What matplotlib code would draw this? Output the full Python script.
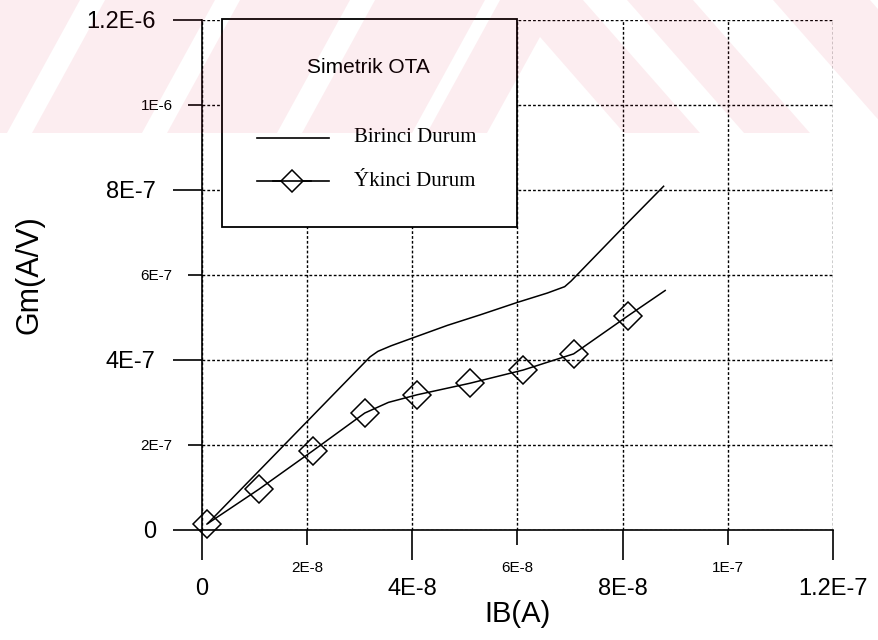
import matplotlib
matplotlib.use("Agg")
import matplotlib.pyplot as plt
from matplotlib.patches import Rectangle, PathPatch
from matplotlib.path import Path
from matplotlib.lines import Line2D
from matplotlib.transforms import Affine2D
from matplotlib.ticker import FixedLocator, FixedFormatter

# ---------------- data ----------------
# Birinci Durum (plain line)
x1 = [1.2e-9, 3.2e-8, 3.35e-8, 3.6e-8, 4.0e-8, 4.67e-8, 5.3e-8, 6.0e-8, 6.57e-8, 6.9e-8, 7.02e-8, 8.0e-8, 8.78e-8]
y1 = [1.6e-8, 4.07e-7, 4.2e-7, 4.33e-7, 4.51e-7, 4.81e-7, 5.06e-7, 5.35e-7, 5.57e-7, 5.72e-7, 5.85e-7, 7.1e-7, 8.08e-7]
# Ikinci Durum (line with diamond markers)
x2 = [1.0e-9, 1.09e-8, 2.11e-8, 3.1e-8, 3.55e-8, 4.1e-8, 5.1e-8, 6.11e-8, 7.07e-8, 8.11e-8, 8.81e-8]
y2 = [1.4e-8, 9.6e-8, 1.86e-7, 2.75e-7, 3.0e-7, 3.18e-7, 3.45e-7, 3.76e-7, 4.14e-7, 5.04e-7, 5.63e-7]
marker_idx = [0, 1, 2, 3, 5, 6, 7, 8, 9]

x_major = [0, 4e-8, 8e-8, 1.2e-7]
x_major_labels = ["0", "4E-8", "8E-8", "1.2E-7"]
x_minor = [2e-8, 6e-8, 1e-7]
x_minor_labels = ["2E-8", "6E-8", "1E-7"]
y_major = [0, 4e-7, 8e-7, 1.2e-6]
y_major_labels = ["0", "4E-7", "8E-7", "1.2E-6"]
y_minor = [2e-7, 6e-7, 1e-6]
y_minor_labels = ["2E-7", "6E-7", "1E-6"]

legend_title = "Simetrik OTA"
series_names = ["Birinci Durum", "Ýkinci Durum"]
x_label = "IB(A)"
y_label = "Gm(A/V)"

# ---------------- figure ----------------
W, H = 879, 640
fig = plt.figure(figsize=(W / 100, H / 100), dpi=100)
fig.patch.set_facecolor("white")
ax = fig.add_axes([201.7 / W, 1 - 530 / H, (833 - 201.7) / W, (530 - 19.5) / H])

sans = ["Liberation Sans", "DejaVu Sans"]
serif = ["Liberation Serif", "DejaVu Serif"]

ax.set_xlim(0, 1.2e-7)
ax.set_ylim(0, 1.2e-6)

ax.xaxis.set_major_locator(FixedLocator(x_major))
ax.xaxis.set_major_formatter(FixedFormatter(x_major_labels))
ax.xaxis.set_minor_locator(FixedLocator(x_minor))
ax.xaxis.set_minor_formatter(FixedFormatter(x_minor_labels))
ax.yaxis.set_major_locator(FixedLocator(y_major))
ax.yaxis.set_major_formatter(FixedFormatter(y_major_labels))
ax.yaxis.set_minor_locator(FixedLocator(y_minor))
ax.yaxis.set_minor_formatter(FixedFormatter(y_minor_labels))

ax.tick_params(axis="x", which="major", direction="out", length=21.5, width=1.2, pad=13, labelsize=17)
ax.tick_params(axis="x", which="minor", direction="out", length=10.5, width=1.2, pad=12, labelsize=11)
ax.tick_params(axis="y", which="major", direction="out", length=21, width=1.2, pad=12, labelsize=17)
ax.tick_params(axis="y", which="minor", direction="out", length=10, width=1.2, pad=11, labelsize=11)
for lab in ax.get_xticklabels(which="both") + ax.get_yticklabels(which="both"):
    lab.set_family(sans)

ax.grid(which="both", color="black", linestyle=(0, (2.0, 1.5)), linewidth=1.0)
ax.set_axisbelow(True)
for s in ["top", "right"]:
    ax.spines[s].set_visible(False)
for s in ["left", "bottom"]:
    ax.spines[s].set_linewidth(1.2)

ax.set_xlabel(x_label, family=sans, fontsize=21, labelpad=0)
ax.set_ylabel(y_label, family=sans, fontsize=22, labelpad=30)

ax.plot(x1, y1, color="black", lw=1.1, zorder=4)
ax.plot(x2, y2, color="black", lw=1.1, marker="D", ms=14, mfc="none", mec="black",
        mew=1.1, markevery=marker_idx, zorder=4, clip_on=False)

# legend box
box = Rectangle((0.0317, 0.5935), 0.4683, 0.4065, transform=ax.transAxes, fc="white",
                ec="black", lw=1.3, zorder=5, clip_on=False)
ax.add_patch(box)
ax.text(0.2637, 0.905, legend_title, transform=ax.transAxes, ha="center", va="center",
        family=sans, fontsize=15, zorder=6)
ax.add_line(Line2D([0.0871, 0.2021], [0.768, 0.768], transform=ax.transAxes, color="black",
                   lw=1.2, zorder=6))
ax.add_line(Line2D([0.0871, 0.2021], [0.6836, 0.6836], transform=ax.transAxes, color="black",
                   lw=1.2, zorder=6))
ax.add_line(Line2D([0.1435], [0.6836], transform=ax.transAxes, marker="D", ms=11.5, mfc="white",
                   mec="black", mew=1.1, color="black", zorder=7))
ax.add_line(Line2D([0.1435 - 0.03, 0.1435 + 0.03], [0.6836, 0.6836], transform=ax.transAxes,
                   color="black", lw=1.2, zorder=8))
ax.text(0.242, 0.768, series_names[0], transform=ax.transAxes, ha="left", va="center",
        family=serif, fontsize=15, zorder=6)
ax.text(0.242, 0.6836, series_names[1], transform=ax.transAxes, ha="left", va="center",
        family=serif, fontsize=15, zorder=6)

# faint watermark band at the top of the scan
px = Affine2D().scale(1 / W, -1 / H).translate(0, 1) + fig.transFigure
polys = []
sl = 73  # "/" stripes
for xr in [80, 215, 350, 485]:
    polys.append([(xr - 110, 0), (xr, 0), (xr - sl, 133), (xr - 110 - sl, 133)])
# Lambda shape
polys.append([(500, 0), (583, 0), (700, 133), (624, 133), (540, 37), (487, 133), (427, 133)])
sr = 117  # "\" stripes
for xl, xr in [(627, 693), (773, 870)]:
    polys.append([(xl, 0), (xr, 0), (xr + sr, 133), (xl + sr, 133)])
verts, codes = [], []
for p in polys:
    verts += p + [p[0]]
    codes += [Path.MOVETO] + [Path.LINETO] * (len(p) - 1) + [Path.CLOSEPOLY]
wm = PathPatch(Path(verts, codes), transform=px, fc=(0.86, 0.1, 0.25), ec="none", alpha=0.075,
               zorder=20)
fig.add_artist(wm)

fig.savefig("out.png", dpi=100)
